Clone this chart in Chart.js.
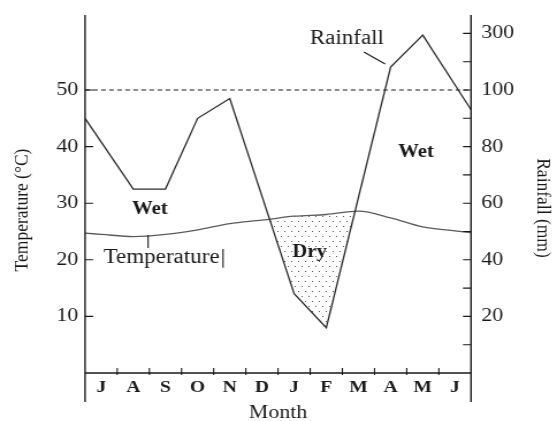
<!DOCTYPE html>
<html>
<head>
<meta charset="utf-8">
<script src="https://cdn.jsdelivr.net/npm/chart.js@4"></script>
<style>
  html, body { margin: 0; padding: 0; background: #fff; overflow: hidden; }
  /* the original figure is drawn a bit wider than tall, so the canvas is stretched sideways */
  #chart { display: block; transform: scaleX(1.1508); transform-origin: 0 0; }
</style>
</head>
<body>
<canvas id="chart" width="484" height="421"></canvas>
<script>
// months, July to June
const months = ['J', 'A', 'S', 'O', 'N', 'D', 'J', 'F', 'M', 'A', 'M', 'J'];

// rainfall (mm) at the corners of the line, x counted in months from the start of July
const rainX = [0, 1.5, 2.5, 3.5, 4.5, 6.5, 7.5, 9.5, 10.5, 12];
const rainfall = [90, 65, 65, 90, 97, 28, 16, 181, 294, 93];

// mean temperature (°C)
const tempX = [0, 0.5, 1.5, 2.5, 3.5, 4.5, 5.5, 6.5, 7.5, 8.5, 9.5, 10.5, 11.5, 12];
const temperature = [24.7, 24.5, 24.1, 24.5, 25.3, 26.4, 27.0, 27.7, 28.0, 28.6, 27.4, 25.8, 25.1, 24.8];

const tempTicks = [10, 20, 30, 40, 50];
const rainTicks = [10, 20, 30, 40, 50, 60, 70, 80, 90, 100, 200, 300];
const rainLabels = [20, 40, 60, 80, 100, 300];
const wetLimit = 100; // mm, the dashed line

// above 100 mm the rainfall axis is squeezed ten times
const rainToAxis = mm => mm <= 100 ? mm : 100 + (mm - 100) / 10;
const axisToRain = v => v <= 100 ? v : 100 + (v - 100) * 10;

const serif = '"Liberation Serif", "Times New Roman", serif';

// words written on the plot, placed in month / °C units
const notes = [
  { text: 'Rainfall', x: 8.14, y: 59.0, font: '20px ' + serif },
  { text: 'Wet', x: 2.02, y: 29.0, font: 'bold 18px ' + serif },
  { text: 'Wet', x: 10.29, y: 38.9, font: 'bold 18px ' + serif },
  { text: 'Dry', x: 6.98, y: 21.4, font: 'bold 18px ' + serif },
  { text: 'Temperature', x: 2.38, y: 20.3, font: '20px ' + serif },
];
const leaders = [
  [8.67, 56.7, 9.33, 54.6],
  [1.96, 24.4, 1.96, 22.1],
  [4.29, 21.9, 4.29, 18.6],
];

function dots() {
  const c = document.createElement('canvas');
  c.width = 6; c.height = 10;
  const g = c.getContext('2d');
  g.fillStyle = '#555';
  g.fillRect(1, 1, 1, 1);
  g.fillRect(4, 6, 1, 1);
  return g.createPattern(c, 'repeat');
}

const frame = {
  id: 'frame',
  afterDatasetsDraw(chart) {
    const { ctx, chartArea: a, scales } = chart;
    const x = scales.x, yT = scales.y, yR = scales.yR;
    ctx.save();
    ctx.strokeStyle = '#1a1a1a';
    ctx.lineWidth = 1.4;
    ctx.beginPath();
    // the two upright axes run on below the month letters
    ctx.moveTo(a.left, a.top); ctx.lineTo(a.left, a.bottom + 29);
    ctx.moveTo(a.right, a.top); ctx.lineTo(a.right, a.bottom + 29);
    ctx.moveTo(a.left, a.bottom); ctx.lineTo(a.right, a.bottom);
    ctx.stroke();

    ctx.lineWidth = 1.1;
    ctx.beginPath();
    for (let m = 1; m < months.length; m++) {
      const px = x.getPixelForValue(m);
      ctx.moveTo(px, a.bottom - 5); ctx.lineTo(px, a.bottom + 2);
    }
    tempTicks.forEach(t => {
      const py = yT.getPixelForValue(t);
      ctx.moveTo(a.left, py); ctx.lineTo(a.left + 7, py);
    });
    rainTicks.forEach(r => {
      const py = yR.getPixelForValue(rainToAxis(r));
      ctx.moveTo(a.right, py); ctx.lineTo(a.right - 7, py);
    });
    leaders.forEach(l => {
      ctx.moveTo(x.getPixelForValue(l[0]), yT.getPixelForValue(l[1]));
      ctx.lineTo(x.getPixelForValue(l[2]), yT.getPixelForValue(l[3]));
    });
    ctx.stroke();

    ctx.fillStyle = '#1a1a1a';
    ctx.textAlign = 'center';
    ctx.textBaseline = 'middle';
    notes.forEach(n => {
      ctx.font = n.font;
      ctx.fillText(n.text, x.getPixelForValue(n.x), yT.getPixelForValue(n.y));
    });

    // axis titles
    ctx.font = '19px ' + serif;
    ctx.fillText('Month', (a.left + a.right) / 2, 413);
    ctx.font = '17.5px ' + serif;
    ctx.save();
    ctx.translate(19, 210);
    ctx.rotate(-Math.PI / 2);
    ctx.fillText('Temperature (°C)', 0, 0);
    ctx.restore();
    ctx.save();
    ctx.translate(471.4, 208);
    ctx.rotate(Math.PI / 2);
    ctx.fillText('Rainfall (mm)', 0, 0);
    ctx.restore();
    ctx.restore();
  }
};

const noGrid = { display: false, drawTicks: false };
// keep the plot top where the axes start, no room kept for half a label
const flat = (s, w) => { s.width = w; s.paddingTop = 0; s.paddingBottom = 0; };

new Chart(document.getElementById('chart'), {
  type: 'line',
  data: {
    datasets: [
      {
        label: 'Rainfall',
        data: rainX.map((m, i) => ({ x: m, y: rainToAxis(rainfall[i]) })),
        yAxisID: 'yR',
        borderColor: '#2b2b2b',
        borderWidth: 1.3,
        pointRadius: 0,
        tension: 0,
        fill: { target: 1, above: 'rgba(0,0,0,0)', below: dots() },
      },
      {
        label: 'Temperature',
        data: tempX.map((m, i) => ({ x: m, y: temperature[i] })),
        yAxisID: 'y',
        borderColor: '#5a5a5a',
        borderWidth: 1.3,
        pointRadius: 0,
        cubicInterpolationMode: 'monotone',
        fill: false,
      },
      {
        label: '100 mm',
        data: [{ x: 0, y: wetLimit }, { x: months.length, y: wetLimit }],
        yAxisID: 'yR',
        borderColor: '#1a1a1a',
        borderWidth: 1,
        borderDash: [4, 3],
        pointRadius: 0,
        fill: false,
      },
    ],
  },
  options: {
    responsive: false,
    animation: false,
    layout: { padding: { top: 15, left: 0, right: 0, bottom: 0 } },
    plugins: { legend: { display: false }, tooltip: { enabled: false } },
    font: { family: serif },
    scales: {
      x: {
        type: 'linear',
        min: 0,
        max: months.length,
        grid: noGrid,
        border: { display: false },
        afterBuildTicks: s => { s.ticks = months.map((m, i) => ({ value: i + 0.5 })); },
        afterFit: s => { s.height = 48; s.paddingLeft = 0; s.paddingRight = 0; },
        ticks: {
          autoSkip: false,
          maxRotation: 0,
          padding: 4,
          color: '#1a1a1a',
          font: { family: serif, size: 17, weight: 'bold' },
          callback: (v, i) => months[i],
        },
      },
      y: {
        position: 'left',
        min: 0,
        max: 63.25,
        grid: noGrid,
        border: { display: false },
        afterBuildTicks: s => { s.ticks = tempTicks.map(t => ({ value: t })); },
        afterFit: s => flat(s, 73.9),
        ticks: {
          autoSkip: false,
          padding: 6,
          color: '#1a1a1a',
          font: { family: serif, size: 19 },
        },
      },
      yR: {
        position: 'right',
        min: 0,
        max: 126.5,
        grid: noGrid,
        border: { display: false },
        afterBuildTicks: s => { s.ticks = rainLabels.map(r => ({ value: rainToAxis(r) })); },
        afterFit: s => flat(s, 74.7),
        ticks: {
          autoSkip: false,
          padding: 9,
          color: '#1a1a1a',
          font: { family: serif, size: 19 },
          callback: v => axisToRain(v),
        },
      },
    },
  },
  plugins: [frame],
});
</script>
</body>
</html>
